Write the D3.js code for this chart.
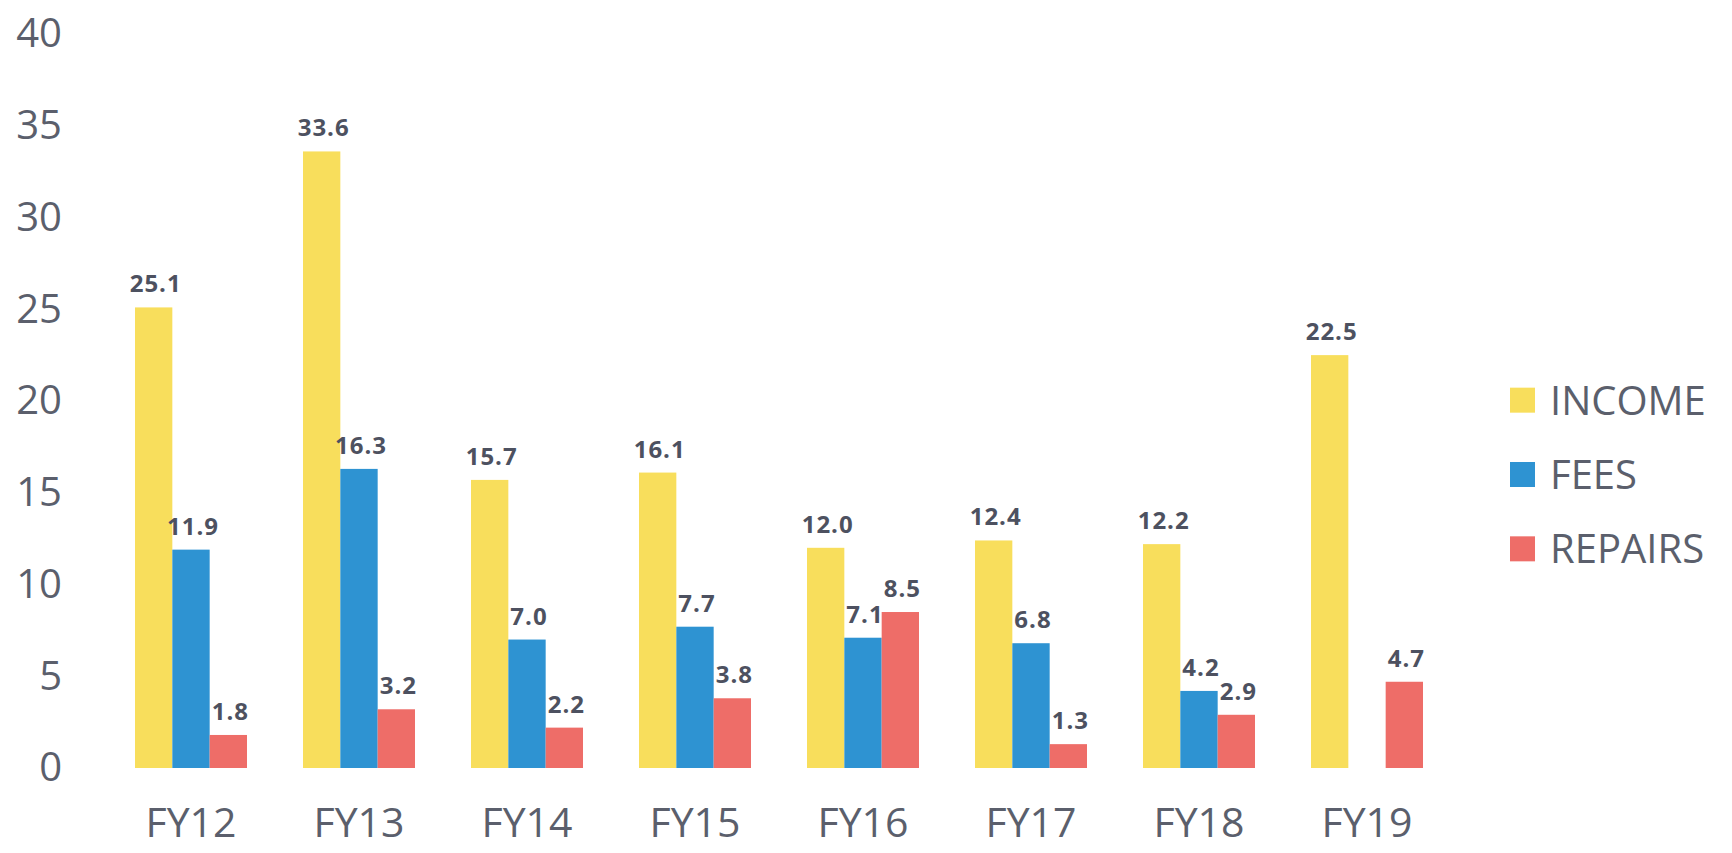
<!DOCTYPE html>
<html>
<head>
<meta charset="utf-8">
<script src="https://cdn.jsdelivr.net/npm/d3@7"></script>
<style>
    body { margin: 0; background: #ffffff; }
    #chart { width: 1732px; height: 853px; }
</style>
</head>
<body>
<div id="chart"></div>
<script>
"use strict"

// values
let years = ["FY12", "FY13", "FY14", "FY15", "FY16", "FY17", "FY18", "FY19"];
let income = [25.1, 33.6, 15.7, 16.1, 12.0, 12.4, 12.2, 22.5];
let fees = [11.9, 16.3, 7.0, 7.7, 7.1, 6.8, 4.2, null];
let repairs = [1.8, 3.2, 2.2, 3.8, 8.5, 1.3, 2.9, 4.7];
let seriesNames = ["INCOME", "FEES", "REPAIRS"];
let yTicks = [0, 5, 10, 15, 20, 25, 30, 35, 40];

let colors = ["#f8de5c", "#2e93d2", "#ee6d68"];
let textColor = "#5b5f6c";
let labelColor = "#4d5160";

function drawChart(){
    let width = 1732, height = 853;
    let series = [income, fees, repairs];

    let svg = d3.select("#chart")
        .append("svg")
        .attr("width", width)
        .attr("height", height)
        .style("font-family", "'Open Sans', sans-serif");

    let x = d3.scaleBand()
        .domain(years)
        .range([107, 1451])
        .paddingInner(1 / 3)
        .paddingOuter(1 / 6);

    let xInner = d3.scaleBand()
        .domain(seriesNames)
        .range([0, x.bandwidth()]);

    let y = d3.scaleLinear()
        .domain([0, 40])
        .range([768, 34]);

    // y axis: labels only, no line
    let yAxis = d3.axisLeft(y)
        .tickValues(yTicks)
        .tickSize(0)
        .tickPadding(0);

    let yG = svg.append("g")
        .attr("transform", "translate(62,0)")
        .call(yAxis);
    yG.select(".domain").remove();
    yG.selectAll("text")
        .style("font-size", "40px")
        .style("font-family", "'Open Sans', sans-serif")
        .attr("fill", textColor);

    // x axis: category labels
    let xAxis = d3.axisBottom(x)
        .tickSize(0)
        .tickPadding(0);

    let xG = svg.append("g")
        .attr("transform", "translate(0,808)")
        .call(xAxis);
    xG.select(".domain").remove();
    xG.selectAll("text")
        .style("font-size", "41px")
        .style("font-family", "'Open Sans', sans-serif")
        .attr("fill", textColor);

    for(let s = 0; s < series.length; s++){
        let rows = years.map(function(d, i){ return {year: d, value: series[s][i]}; })
                        .filter(function(d){ return d.value != null; });

        let g = svg.append("g").attr("class", "series-" + s);

        g.selectAll("rect")
            .data(rows)
            .enter()
            .append("rect")
            .attr("x", function(d){ return x(d.year) + xInner(seriesNames[s]); })
            .attr("y", function(d){ return y(d.value); })
            .attr("width", xInner.bandwidth())
            .attr("height", function(d){ return y(0) - y(d.value); })
            .style("fill", colors[s]);

        // value labels above the bars
        g.selectAll("text")
            .data(rows)
            .enter()
            .append("text")
            .attr("x", function(d){ return x(d.year) + xInner(seriesNames[s]) + xInner.bandwidth() / 2 + 2; })
            .attr("y", function(d){ return y(d.value) - 15; })
            .attr("text-anchor", "middle")
            .style("font-size", "24px")
            .style("font-weight", "bold")
            .style("letter-spacing", "1px")
            .attr("fill", labelColor)
            .text(function(d){ return d.value.toFixed(1); });
    }

    // legend
    let legend = d3.scaleBand()
        .domain(seriesNames)
        .range([363, 586]);

    let lg = svg.append("g");
    for(let j = 0; j < seriesNames.length; j++){
        let cy = legend(seriesNames[j]) + legend.bandwidth() / 2;
        lg.append("rect")
            .attr("x", 1510)
            .attr("y", cy - 12.5)
            .attr("width", 25)
            .attr("height", 25)
            .style("fill", colors[j]);
        lg.append("text")
            .attr("x", 1550)
            .attr("y", cy)
            .attr("dy", "0.36em")
            .style("font-size", "40px")
            .attr("fill", textColor)
            .text(seriesNames[j]);
    }
}

drawChart();
</script>
</body>
</html>
